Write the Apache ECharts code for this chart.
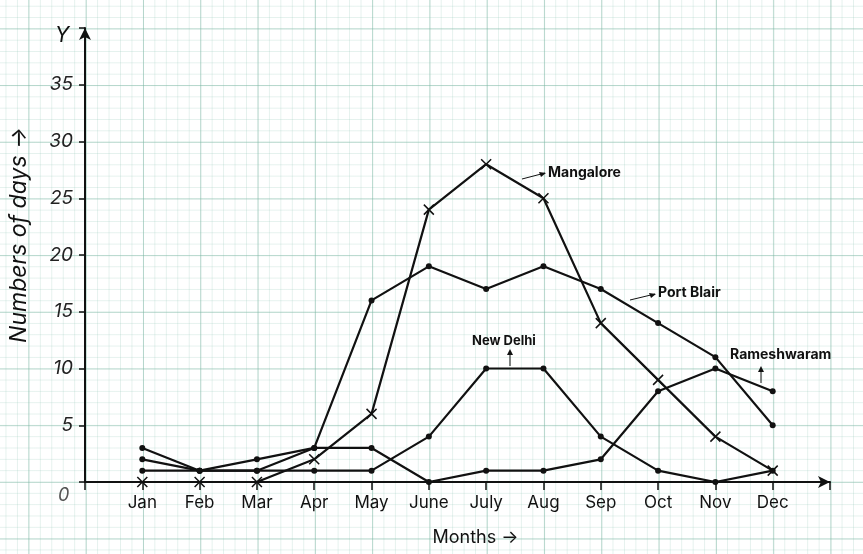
<!DOCTYPE html><html><head><meta charset="utf-8">
<script src="https://cdn.jsdelivr.net/npm/echarts@6/dist/echarts.min.js"></script>
<style>
html,body{margin:0;padding:0;}
body{width:863px;height:554px;background-color:#fff;
background-image:
linear-gradient(to right, rgba(120,180,160,0.45) 1px, transparent 1px),
linear-gradient(to bottom, rgba(120,180,160,0.45) 1px, transparent 1px),
linear-gradient(to right, rgba(150,200,185,0.25) 1px, transparent 1px),
linear-gradient(to bottom, rgba(150,200,185,0.25) 1px, transparent 1px);
background-size:57.3px 56.7px,57.3px 56.7px,11.46px 11.34px,11.46px 11.34px;
background-position:28.4px 28.4px,28.4px 28.4px,28.4px 28.4px,28.4px 28.4px;}
#c{width:863px;height:554px;}
</style></head><body><div id="c"></div>
<script>
const months=['Jan','Feb','Mar','Apr','May','June','July','Aug','Sep','Oct','Nov','Dec'];
const yTicks=[5,10,15,20,25,30,35];
const mangalore=[0,0,0,2,6,24,28,25,14,9,4,1];
const portBlair=[3,1,2,3,16,19,17,19,17,14,11,5];
const rameshwaram=[2,1,1,3,3,0,1,1,2,8,10,8];
const newDelhi=[1,1,1,1,1,4,10,10,4,1,0,1];
const chart=echarts.init(document.getElementById('c'));
function mk(name,vals,sym){return {name,type:'line',data:vals.map((v,i)=>[i+1,v]),symbol:sym,
 symbolSize:sym==='circle'?6:10,itemStyle:{color:'#111'},lineStyle:{color:'#111',width:2.2},z:5};}
const xMark='path://M0,0L10,10M10,0L0,10';
const series=[mk('Mangalore',mangalore,xMark),mk('Port Blair',portBlair,'circle'),mk('Rameshwaram',rameshwaram,'circle'),mk('New Delhi',newDelhi,'circle')];
series[0].itemStyle={color:'transparent',borderColor:'#111',borderWidth:1.5};
const arrow={type:'line',style:{stroke:'#111',lineWidth:1}};
chart.setOption({
 animation:false,
 grid:{left:85,right:33,top:28,bottom:72},
 xAxis:{type:'value',min:0,max:13,interval:1,
  axisLine:{lineStyle:{color:'#111',width:2},symbol:['none','arrow'],symbolSize:[9,12]},
  axisTick:{show:true,inside:false,length:8,lineStyle:{color:'#111',width:1.5},interval:0},
  splitLine:{show:false},
  axisLabel:{formatter:v=>(v>=1&&v<=12)?months[v-1]:'',color:'#111',fontSize:17,fontFamily:'Inter',margin:12},
  name:'Months →',nameLocation:'middle',nameGap:47,nameTextStyle:{fontSize:18,fontFamily:'Inter',color:'#111',padding:[0,0,0,36]}},
 yAxis:{type:'value',min:0,max:40,interval:5,
  axisLine:{lineStyle:{color:'#111',width:2},symbol:['none','arrow'],symbolSize:[9,12]},
  axisTick:{show:true,length:6,lineStyle:{color:'#111',width:1.5}},
  splitLine:{show:false},
  axisLabel:{formatter:v=>yTicks.includes(v)?String(v):'',color:'#222',fontSize:19,fontStyle:'italic',fontFamily:'Inter',margin:12},
  name:'Numbers of days →',nameLocation:'middle',nameGap:54,nameTextStyle:{fontSize:23,fontStyle:'italic',fontFamily:'Inter',color:'#111',padding:[0,0,0,40]}},
 series,
 graphic:[
  {type:'text',left:55,top:25,style:{text:'Y',fontSize:21,fontStyle:'italic',fontFamily:'Inter',fill:'#111'}},
  {type:'text',left:58,top:487,style:{text:'0',fontSize:18,fontStyle:'italic',fontFamily:'Inter',fill:'#555'}},
  {type:'text',left:548,top:166,style:{text:'Mangalore',fontSize:14,fontWeight:'bold',fontFamily:'Inter',fill:'#111'}},
  Object.assign({shape:{x1:522,y1:179,x2:545,y2:173}},arrow),
  {type:'polygon',shape:{points:[[546,173],[539,172],[541,177]]},style:{fill:'#111'}},
  {type:'text',left:658,top:286,style:{text:'Port Blair',fontSize:14,fontWeight:'bold',fontFamily:'Inter',fill:'#111'}},
  Object.assign({shape:{x1:630,y1:300,x2:655,y2:294}},arrow),
  {type:'polygon',shape:{points:[[656,294],[649,293],[651,298]]},style:{fill:'#111'}},
  {type:'text',left:472,top:335,style:{text:'New Delhi',fontSize:13,fontWeight:'bold',fontFamily:'Inter',fill:'#111'}},
  Object.assign({shape:{x1:510,y1:366,x2:510,y2:351}},arrow),
  {type:'polygon',shape:{points:[[510,349],[507,355],[513,355]]},style:{fill:'#111'}},
  {type:'text',left:730,top:348,style:{text:'Rameshwaram',fontSize:14,fontWeight:'bold',fontFamily:'Inter',fill:'#111'}},
  Object.assign({shape:{x1:761,y1:383,x2:761,y2:368}},arrow),
  {type:'polygon',shape:{points:[[761,366],[758,372],[764,372]]},style:{fill:'#111'}}
 ]
});
</script></body></html>
